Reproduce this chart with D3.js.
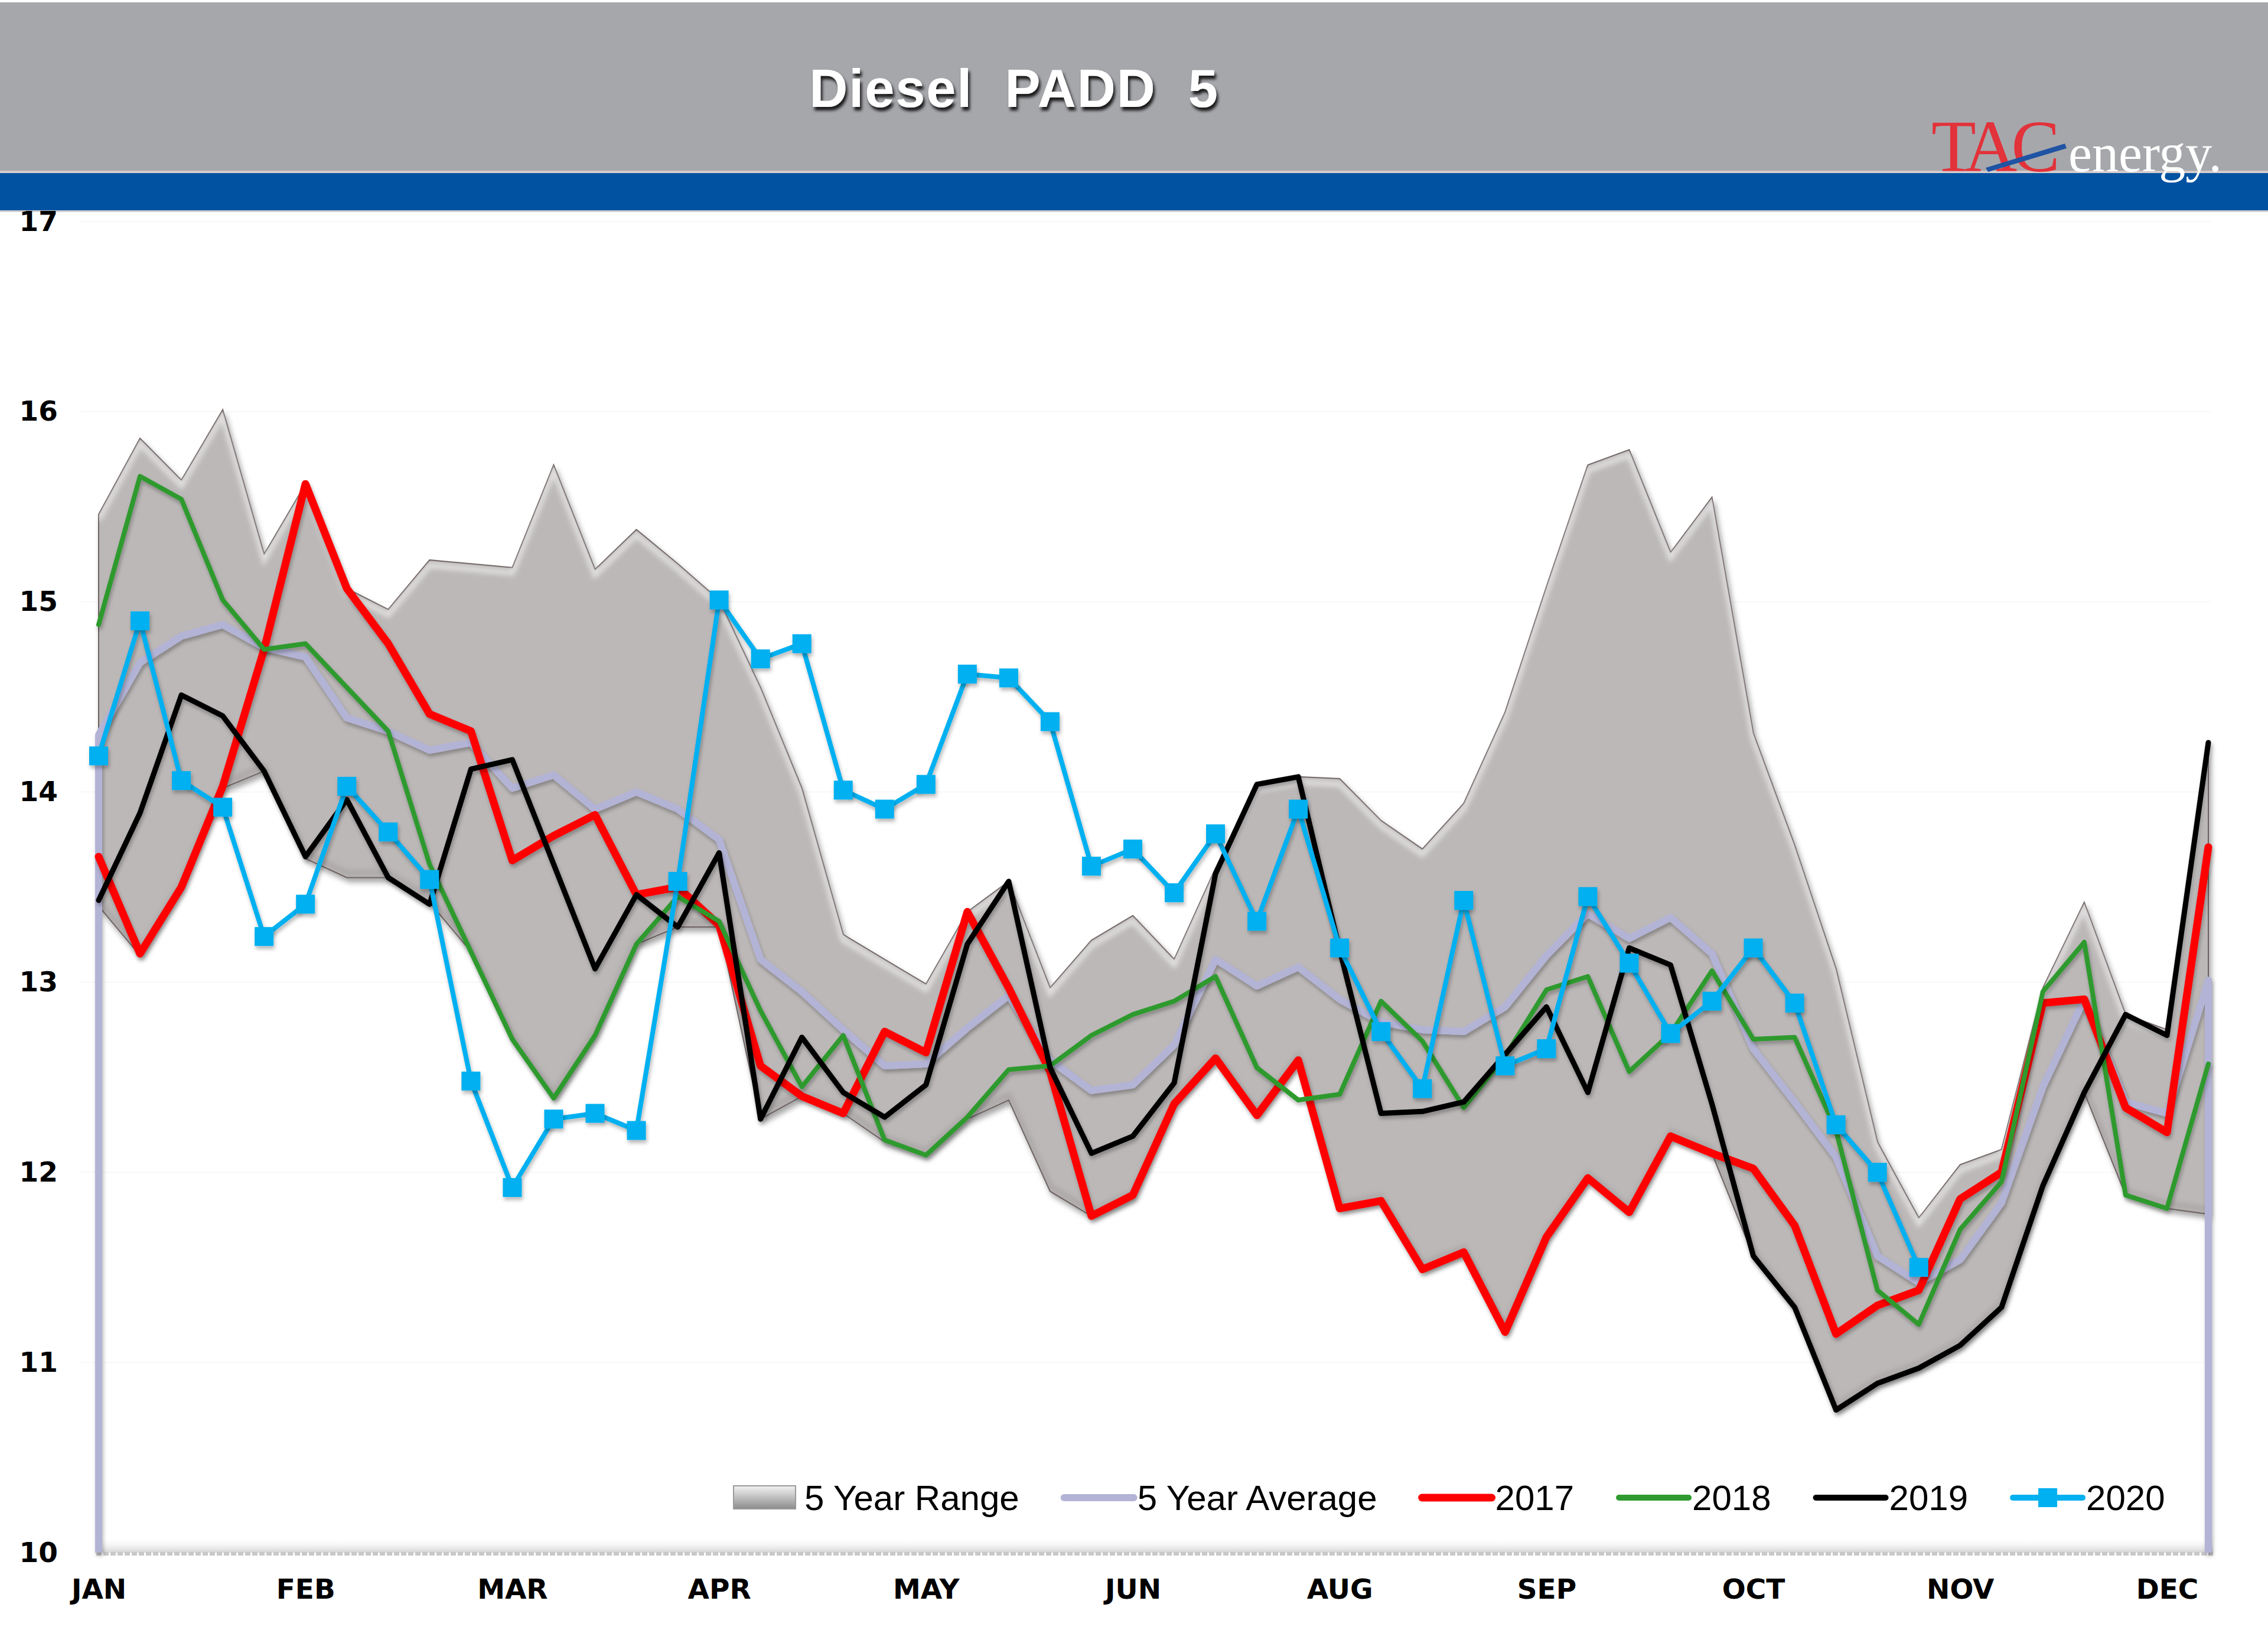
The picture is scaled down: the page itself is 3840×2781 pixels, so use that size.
<!DOCTYPE html>
<html>
<head>
<meta charset="utf-8">
<script src="https://cdn.jsdelivr.net/npm/d3@7/dist/d3.min.js"></script>
<style>
  html, body { margin: 0; padding: 0; background: #ffffff; }
  svg { display: block; }
</style>
</head>
<body>
<svg id="chart" width="3840" height="2781"></svg>
<script>
// ---------------- DATA ----------------
const chartTitle = "Diesel  PADD  5";
const weeks = d3.range(52);
const monthLabels = ["JAN", "FEB", "MAR", "APR", "MAY", "JUN", "AUG", "SEP", "OCT", "NOV", "DEC"];
const monthTickWeeks = [0, 5, 10, 15, 20, 25, 30, 35, 40, 45, 50];
const yTicks = [10, 11, 12, 13, 14, 15, 16, 17];

const rangeHigh = [15.46, 15.86, 15.64, 16.01, 15.25, 15.62, 15.07, 14.96, 15.22, 15.20,
                   15.18, 15.72, 15.17, 15.38, 15.20, 15.01, 14.55, 14.02, 13.25, 13.12,
                   12.99, 13.37, 13.53, 12.97, 13.22, 13.35, 13.12, 13.60, 14.04, 14.08,
                   14.07, 13.85, 13.70, 13.94, 14.42, 15.08, 15.72, 15.80, 15.26, 15.55,
                   14.31, 13.72, 13.07, 12.16, 11.76, 12.04, 12.12, 12.97, 13.42, 12.83,
                   12.75, 14.27];
const rangeLow = [13.40, 13.14, 13.50, 14.02, 14.11, 13.65, 13.55, 13.55, 13.42, 13.16,
                  12.70, 12.39, 12.72, 13.20, 13.29, 13.29, 12.28, 12.40, 12.31, 12.16,
                  12.09, 12.28, 12.38, 11.90, 11.77, 11.87, 12.36, 12.60, 12.30, 12.59,
                  11.81, 11.85, 11.49, 11.58, 11.16, 11.66, 11.97, 11.79, 12.19, 12.10,
                  11.56, 11.29, 10.75, 10.89, 10.97, 11.09, 11.29, 11.93, 12.42, 11.88,
                  11.81, 11.78];
const avg5 = [14.30, 14.68, 14.82, 14.88, 14.76, 14.71, 14.39, 14.32, 14.22, 14.26,
              14.02, 14.09, 13.91, 14.00, 13.91, 13.75, 13.12, 12.95, 12.75, 12.56,
              12.57, 12.76, 12.93, 12.59, 12.43, 12.46, 12.67, 13.12, 12.98, 13.08,
              12.91, 12.79, 12.75, 12.74, 12.87, 13.14, 13.36, 13.23, 13.34, 13.15,
              12.65, 12.37, 12.08, 11.56, 11.42, 11.54, 11.84, 12.45, 12.91, 12.37,
              12.31, 13.01];
const y2017 = [13.66, 13.15, 13.50, 14.03, 14.75, 15.62, 15.07, 14.78, 14.41, 14.32,
               13.64, 13.77, 13.88, 13.46, 13.50, 13.30, 12.56, 12.40, 12.31, 12.74,
               12.63, 13.37, 12.97, 12.53, 11.77, 11.88, 12.36, 12.60, 12.30, 12.59,
               11.81, 11.85, 11.49, 11.58, 11.16, 11.66, 11.97, 11.79, 12.19, 12.10,
               12.02, 11.72, 11.15, 11.30, 11.38, 11.86, 12.00, 12.89, 12.91, 12.34,
               12.21, 13.71];
const y2018 = [14.88, 15.66, 15.54, 15.01, 14.75, 14.78, 14.55, 14.32, 13.62, 13.16,
               12.70, 12.39, 12.72, 13.20, 13.45, 13.32, 12.85, 12.45, 12.72, 12.17,
               12.09, 12.29, 12.54, 12.56, 12.72, 12.83, 12.90, 13.03, 12.55, 12.38,
               12.41, 12.90, 12.69, 12.34, 12.61, 12.96, 13.03, 12.53, 12.73, 13.06,
               12.70, 12.71, 12.22, 11.38, 11.20, 11.70, 11.95, 12.95, 13.21, 11.88,
               11.81, 12.57];
const y2019 = [13.43, 13.89, 14.51, 14.40, 14.11, 13.66, 13.96, 13.55, 13.41, 14.12,
               14.17, 13.62, 13.07, 13.46, 13.29, 13.68, 12.28, 12.71, 12.42, 12.29,
               12.46, 13.20, 13.53, 12.55, 12.10, 12.19, 12.47, 13.57, 14.04, 14.08,
               13.17, 12.31, 12.32, 12.37, 12.62, 12.87, 12.42, 13.18, 13.09, 12.36,
               11.56, 11.29, 10.75, 10.89, 10.97, 11.09, 11.29, 11.93, 12.42, 12.83,
               12.72, 14.26];
const y2020 = [14.19, 14.90, 14.06, 13.92, 13.24, 13.41, 14.03, 13.79, 13.54, 12.48,
               11.92, 12.28, 12.31, 12.22, 13.53, 15.01, 14.70, 14.78, 14.01, 13.91,
               14.04, 14.62, 14.60, 14.37, 13.61, 13.70, 13.47, 13.78, 13.32, 13.91,
               13.18, 12.74, 12.44, 13.43, 12.56, 12.65, 13.45, 13.10, 12.73, 12.90,
               13.18, 12.89, 12.25, 12.00, 11.50];
const legendNames = ["5 Year Range", "5 Year Average", "2017", "2018", "2019", "2020"];

// ---------------- STYLES / LAYOUT ----------------
const W = 3840, H = 2781;
const plotLeft = 167, plotRight = 3739, plotTop = 375, plotBottom = 2628;
const lineStyles = {
  "2017": { color: "#ff0000", width: 13 },
  "2018": { color: "#2f9a2f", width: 8 },
  "2019": { color: "#000000", width: 9 },
  "2020": { color: "#00b0f0", width: 8 }
};
const avgColor = "#b3b3d6";

const svg = d3.select("#chart");
const defs = svg.append("defs");

function dropShadow(id, dx, dy, sd, op) {
  const f = defs.append("filter").attr("id", id)
    .attr("x", "-10%").attr("y", "-10%").attr("width", "120%").attr("height", "130%");
  f.append("feDropShadow").attr("dx", dx).attr("dy", dy).attr("stdDeviation", sd)
    .attr("flood-color", "#000").attr("flood-opacity", op);
}
dropShadow("lineShadow", 2, 5, 3, 0.28);
dropShadow("areaShadow", 4, 7, 5, 0.35);
dropShadow("titleShadow", 3, 6, 2.5, 0.85);
defs.append("filter").attr("id", "blur4").append("feGaussianBlur").attr("stdDeviation", 4);

const swatchGrad = defs.append("linearGradient").attr("id", "swatchGrad")
  .attr("x1", 0).attr("y1", 0).attr("x2", 0).attr("y2", 1);
swatchGrad.append("stop").attr("offset", "0%").attr("stop-color", "#f2f2f2");
swatchGrad.append("stop").attr("offset", "35%").attr("stop-color", "#cfcfcf");
swatchGrad.append("stop").attr("offset", "100%").attr("stop-color", "#8c8c8c");

const bottomGrad = defs.append("linearGradient").attr("id", "bottomGrad")
  .attr("x1", 0).attr("y1", 0).attr("x2", 0).attr("y2", 1);
bottomGrad.append("stop").attr("offset", "0%").attr("stop-color", "#ffffff").attr("stop-opacity", 0);
bottomGrad.append("stop").attr("offset", "100%").attr("stop-color", "#d4d4d4").attr("stop-opacity", 1);

// ---------------- HEADER ----------------
svg.append("rect").attr("x", 0).attr("y", 0).attr("width", W).attr("height", H).attr("fill", "#ffffff");
svg.append("rect").attr("x", 0).attr("y", 4).attr("width", W).attr("height", 287).attr("fill", "#a6a7ab");
svg.append("rect").attr("x", 0).attr("y", 289).attr("width", W).attr("height", 4).attr("fill", "#d4cbcb");
svg.append("rect").attr("x", 0).attr("y", 293).attr("width", W).attr("height", 63).attr("fill", "#0152a1");
svg.append("rect").attr("x", 0).attr("y", 356).attr("width", W).attr("height", 3).attr("fill", "#d2d2d2");

svg.append("text")
  .attr("x", 1717).attr("y", 181)
  .attr("text-anchor", "middle")
  .style("white-space", "pre")
  .attr("font-family", "'Liberation Sans', Arial, sans-serif")
  .attr("font-weight", "bold").attr("font-size", 90)
  .attr("letter-spacing", 2)
  .attr("fill", "#ffffff")
  .attr("filter", "url(#titleShadow)")
  .text(chartTitle);

// Logo
const logo = svg.append("g");
logo.append("text").attr("x", 3270).attr("y", 290)
  .attr("font-family", "'Liberation Serif', 'Times New Roman', serif")
  .attr("font-size", 124).attr("letter-spacing", -10)
  .attr("fill", "#e2323a").text("TAC");
logo.append("text").attr("x", 3502).attr("y", 290)
  .attr("font-family", "'Liberation Serif', 'Times New Roman', serif")
  .attr("font-size", 90).attr("fill", "#ffffff").text("energy.");
logo.append("path").attr("d", "M3362,284 L3496,243 L3499,251 L3366,291 Z").attr("fill", "#1f53a3");

// ---------------- SCALES ----------------
const x = d3.scalePoint().domain(weeks).range([plotLeft, plotRight]);
const y = d3.scaleLinear().domain([10, 17]).range([plotBottom, plotTop]);

// gridlines (barely visible)
svg.append("g").selectAll("line").data(yTicks.filter(d => d > 10)).join("line")
  .attr("x1", 137).attr("x2", 3745)
  .attr("y1", d => y(d)).attr("y2", d => y(d))
  .attr("stroke", "#f8f8f8").attr("stroke-width", 2);

// bottom of plot area shading + axis line
svg.append("rect").attr("x", plotLeft - 4).attr("y", plotBottom - 26)
  .attr("width", plotRight - plotLeft + 12).attr("height", 26).attr("fill", "url(#bottomGrad)");
svg.append("line").attr("x1", plotLeft - 4).attr("x2", plotRight + 8)
  .attr("y1", plotBottom + 2).attr("y2", plotBottom + 2)
  .attr("stroke", "#c8c8c8").attr("stroke-width", 6).attr("stroke-dasharray", "9 3");

// ---------------- RANGE AREA ----------------
const areaGen = d3.area()
  .x(i => x(i))
  .y0(i => y(rangeLow[i]))
  .y1(i => y(rangeHigh[i]));
const areaD = areaGen(weeks);
defs.append("clipPath").attr("id", "areaClip").append("path").attr("d", areaD);

svg.append("path").attr("d", areaD)
  .attr("fill", "#bcb8b8")
  .attr("stroke", "#6c6060").attr("stroke-width", 2)
  .attr("stroke-linejoin", "miter")
  .attr("filter", "url(#areaShadow)");

// bevel highlight just inside the upper edge
const upperLine = d3.line().x(i => x(i)).y(i => y(rangeHigh[i]));
const bevel = svg.append("g").attr("clip-path", "url(#areaClip)");
bevel.append("path").attr("d", upperLine(weeks))
  .attr("transform", "translate(0,9)")
  .attr("fill", "none").attr("stroke", "#ffffff").attr("stroke-opacity", 0.55)
  .attr("stroke-width", 9).attr("filter", "url(#blur4)");
const lowerLine = d3.line().x(i => x(i)).y(i => y(rangeLow[i]));
bevel.append("path").attr("d", lowerLine(weeks))
  .attr("transform", "translate(0,-8)")
  .attr("fill", "none").attr("stroke", "#8d8686").attr("stroke-opacity", 0.35)
  .attr("stroke-width", 9).attr("filter", "url(#blur4)");

// ---------------- 5 YEAR AVERAGE (outlined area) ----------------
const avgPts = [[x(0), y(10)]]
  .concat(weeks.map(i => [x(i), y(avg5[i])]))
  .concat([[x(weeks.length - 1), y(10)]]);
svg.append("path").attr("d", d3.line()(avgPts))
  .attr("fill", "none").attr("stroke", avgColor).attr("stroke-width", 12)
  .attr("stroke-linejoin", "round")
  .attr("filter", "url(#lineShadow)");

// ---------------- YEAR LINES ----------------
const series = [
  { name: "2017", values: y2017 },
  { name: "2018", values: y2018 },
  { name: "2019", values: y2019 },
  { name: "2020", values: y2020 }
];
const lineGen = d3.line().x((d, i) => x(i)).y(d => y(d));
series.forEach(s => {
  const st = lineStyles[s.name];
  svg.append("path").attr("d", lineGen(s.values))
    .attr("fill", "none").attr("stroke", st.color).attr("stroke-width", st.width)
    .attr("stroke-linejoin", "round").attr("stroke-linecap", "round")
    .attr("filter", "url(#lineShadow)");
});
// markers for 2020
const mk = 32;
svg.append("g").attr("filter", "url(#lineShadow)")
  .selectAll("rect").data(y2020).join("rect")
  .attr("x", (d, i) => x(i) - mk / 2).attr("y", d => y(d) - mk / 2)
  .attr("width", mk).attr("height", mk)
  .attr("fill", lineStyles["2020"].color);

// ---------------- AXES ----------------
const yAxis = svg.append("g").attr("transform", "translate(100,0)")
  .call(d3.axisLeft(y).tickValues(yTicks).tickFormat(d3.format("d")).tickSize(0).tickPadding(2));
yAxis.select(".domain").remove();
yAxis.selectAll("text")
  .attr("font-family", "'DejaVu Sans', Verdana, sans-serif")
  .attr("font-weight", "bold").attr("font-size", 47).attr("fill", "#000");

const xAxis = svg.append("g").attr("transform", `translate(0,${plotBottom})`)
  .call(d3.axisBottom(x).tickValues(monthTickWeeks)
    .tickFormat(d => monthLabels[monthTickWeeks.indexOf(d)]).tickSize(0).tickPadding(45));
xAxis.select(".domain").remove();
xAxis.selectAll("text")
  .attr("font-family", "'DejaVu Sans', Verdana, sans-serif")
  .attr("font-weight", "bold").attr("font-size", 47).attr("fill", "#000");

// ---------------- LEGEND ----------------
const legend = svg.append("g");
const legY = 2535;
let cx = 1242;
legendNames.forEach(name => {
  if (name === "5 Year Range") {
    legend.append("rect").attr("x", cx).attr("y", legY - 20).attr("width", 105).attr("height", 39)
      .attr("fill", "url(#swatchGrad)").attr("stroke", "#9a9a9a").attr("stroke-width", 2);
    cx += 105 + 15;
  } else {
    const color = name === "5 Year Average" ? avgColor : lineStyles[name].color;
    const width = name === "5 Year Average" ? 12 : Math.max(lineStyles[name].width, 10);
    legend.append("line").attr("x1", cx).attr("x2", cx + 118).attr("y1", legY).attr("y2", legY)
      .attr("stroke", color).attr("stroke-width", width).attr("stroke-linecap", "round");
    if (name === "2020") {
      legend.append("rect").attr("x", cx + 59 - mk / 2).attr("y", legY - mk / 2)
        .attr("width", mk).attr("height", mk).attr("fill", color);
    }
    cx += 118 + 6;
  }
  const t = legend.append("text").attr("x", cx).attr("y", legY + 21)
    .attr("font-family", "'Liberation Sans', Arial, sans-serif")
    .attr("font-size", 60).attr("fill", "#000").text(name);
  cx += t.node().getComputedTextLength() + 76;
});
</script>
</body>
</html>
